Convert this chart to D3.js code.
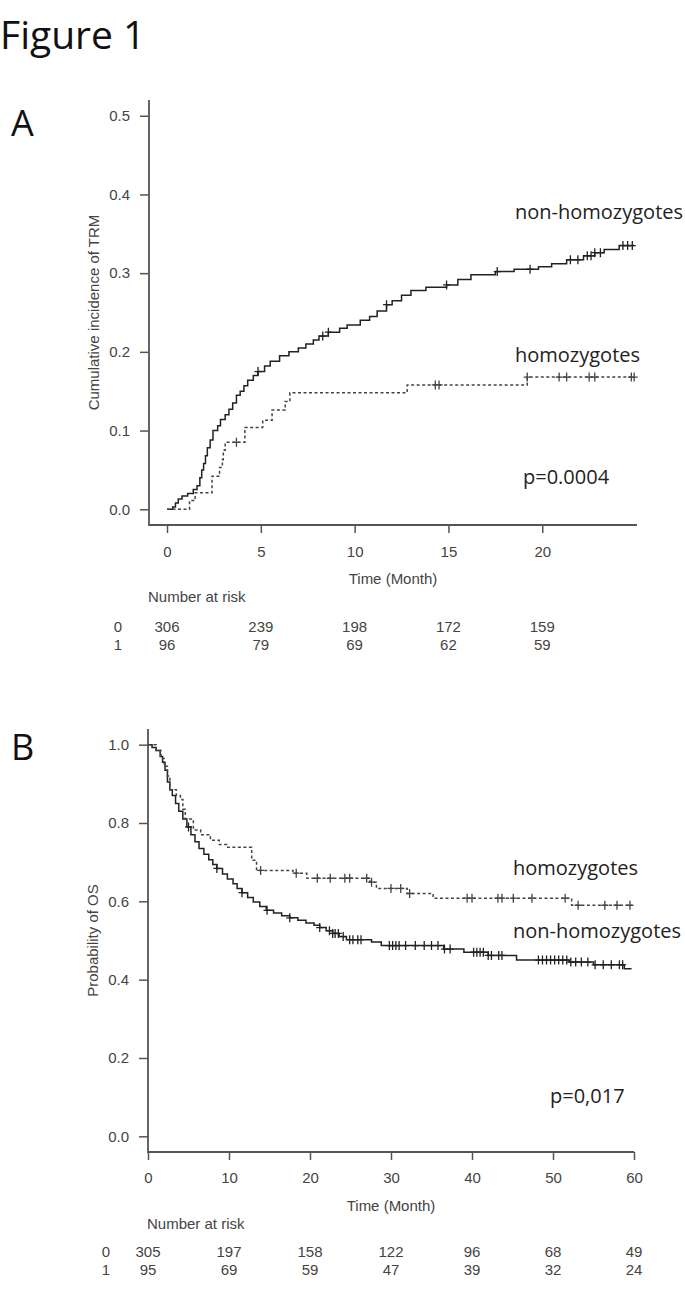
<!DOCTYPE html>
<html>
<head>
<meta charset="utf-8">
<script src="https://cdn.jsdelivr.net/npm/d3@7"></script>
<style>
  body { margin: 0; background: #fff; }
  .axis text { font-family: "Liberation Sans", Arial, sans-serif; font-size: 15px; fill: #444; }
  .axis line { stroke: #555; stroke-width: 1.5; }
  .rtext { font-family: "Liberation Sans", Arial, sans-serif; font-size: 15px; fill: #444; }
  .note { font-family: "Open Sans", sans-serif; font-size: 20px; fill: #222; }
</style>
</head>
<body>
<script>
//figure title and panel letters
var figTitle = "Figure 1";
var panelLetters = ["A", "B"];

//panel A: cumulative incidence of TRM
var trmTicksY = [0, 0.1, 0.2, 0.3, 0.4, 0.5];
var trmTicksX = [0, 5, 10, 15, 20];
var trmNonT = [0, 0.3, 0.45, 0.6, 0.8, 1.1, 1.4, 1.6, 1.75, 1.85, 1.95, 2.05, 2.15, 2.3, 2.45, 2.7, 2.85, 3.1, 3.3, 3.5, 3.7, 3.9, 4.1, 4.3, 4.6, 4.85, 5.2, 5.5, 6.0, 6.5, 7.0, 7.4, 7.8, 8.1, 8.6, 9.2, 9.6, 10.3, 10.8, 11.2, 11.7, 12.0, 12.5, 13.0, 13.8, 14.9, 15.5, 16.2, 17.5, 18.5, 19.8, 20.5, 21.3, 22.2, 22.8, 23.3, 24.1, 24.9];
var trmNonV = [0, 0.003, 0.008, 0.013, 0.017, 0.020, 0.025, 0.030, 0.040, 0.050, 0.058, 0.068, 0.078, 0.088, 0.100, 0.106, 0.114, 0.120, 0.127, 0.135, 0.145, 0.150, 0.157, 0.164, 0.170, 0.175, 0.182, 0.188, 0.195, 0.200, 0.205, 0.210, 0.215, 0.220, 0.225, 0.230, 0.234, 0.240, 0.245, 0.252, 0.260, 0.265, 0.272, 0.278, 0.282, 0.285, 0.292, 0.298, 0.302, 0.305, 0.308, 0.312, 0.317, 0.322, 0.326, 0.330, 0.335, 0.335];
var trmNonCens = [4.85, 8.3, 8.6, 11.7, 14.9, 17.6, 19.35, 21.5, 21.9, 22.4, 22.6, 22.8, 23.1, 24.3, 24.55, 24.8];
var trmHomT = [0, 1.2, 1.5, 2.4, 2.8, 2.95, 3.0, 3.1, 4.15, 5.1, 5.6, 6.3, 6.55, 12.8, 19.2, 24.9];
var trmHomV = [0, 0.011, 0.021, 0.042, 0.053, 0.063, 0.075, 0.085, 0.104, 0.113, 0.126, 0.137, 0.148, 0.158, 0.168, 0.168];
var trmHomCens = [3.7, 14.3, 14.5, 19.2, 20.9, 21.3, 22.5, 22.8, 24.75, 24.9];
var trmRiskNon = [306, 239, 198, 172, 159];
var trmRiskHom = [96, 79, 69, 62, 59];

//panel B: overall survival
var osTicksY = [0, 0.2, 0.4, 0.6, 0.8, 1.0];
var osTicksX = [0, 10, 20, 30, 40, 50, 60];
var osNonT = [0, 0.5, 1.0, 1.5, 1.8, 2.1, 2.4, 2.7, 3.0, 3.4, 3.8, 4.3, 4.8, 5.3, 5.8, 6.3, 6.9, 7.5, 8.0, 8.5, 9.2, 9.8, 10.5, 11.0, 11.6, 12.3, 13.0, 13.8, 14.6, 15.5, 16.5, 17.5, 18.5, 19.5, 20.5, 21.2, 22.0, 22.8, 23.6, 24.5, 27.6, 28.8, 36.5, 39.0, 42.0, 45.5, 52.0, 55.0, 58.8, 59.7];
var osNonV = [1, 0.993, 0.985, 0.970, 0.955, 0.935, 0.905, 0.885, 0.870, 0.850, 0.830, 0.810, 0.790, 0.770, 0.752, 0.735, 0.720, 0.706, 0.694, 0.684, 0.670, 0.657, 0.645, 0.633, 0.622, 0.610, 0.598, 0.587, 0.577, 0.570, 0.563, 0.558, 0.552, 0.545, 0.539, 0.533, 0.525, 0.518, 0.510, 0.502, 0.496, 0.487, 0.478, 0.470, 0.462, 0.450, 0.445, 0.438, 0.428, 0.428];
var osNonCens = [5.0, 8.5, 11.6, 14.7, 17.5, 21.2, 22.4, 22.8, 23.1, 23.5, 24.1, 24.9, 25.3, 25.9, 26.3, 29.8, 30.2, 30.6, 31.0, 31.8, 33.0, 34.1, 35.0, 35.8, 36.6, 37.3, 40.2, 40.6, 41.0, 41.4, 42.0, 42.4, 43.3, 43.7, 48.2, 48.7, 49.2, 49.7, 50.2, 50.7, 51.2, 51.7, 52.2, 52.8, 53.5, 54.3, 55.2, 56.2, 57.2, 58.2, 58.6];
var osHomT = [0, 1.0, 1.6, 2.0, 2.4, 2.7, 3.5, 4.0, 4.3, 4.6, 5.6, 6.5, 7.7, 8.8, 9.7, 12.8, 13.4, 17.9, 19.6, 27.4, 28.2, 32.0, 35.2, 52.3, 59.7];
var osHomV = [1, 0.985, 0.965, 0.945, 0.920, 0.885, 0.870, 0.860, 0.835, 0.810, 0.782, 0.770, 0.756, 0.745, 0.738, 0.705, 0.679, 0.672, 0.659, 0.649, 0.633, 0.620, 0.608, 0.590, 0.590];
var osHomCens = [13.9, 18.3, 20.9, 22.5, 24.3, 24.9, 27.0, 27.6, 30.0, 31.2, 32.3, 39.4, 40.0, 43.2, 43.7, 45.1, 47.4, 51.5, 53.1, 56.4, 57.9, 59.5];
var osRiskNon = [305, 197, 158, 122, 96, 68, 49];
var osRiskHom = [95, 69, 59, 47, 39, 32, 24];

//risk row names
var riskRows = ["0", "1"];

window.onload = function() {
  var w = 685, h = 1290;
  var svg = d3.select("body").append("svg")
    .attr("width", w)
    .attr("height", h);

  //figure title
  svg.append("text")
    .attr("x", 0).attr("y", 49)
    .style("font-family", "'Open Sans', sans-serif")
    .style("font-size", "39px")
    .style("fill", "#111")
    .text(figTitle);

  //draws one km-style panel
  function panel(cfg) {
    var x = d3.scaleLinear().domain(cfg.xDom).range(cfg.xRange);
    var y = d3.scaleLinear().domain(cfg.yDom).range(cfg.yRange);
    var g = svg.append("g");

    //panel letter
    g.append("text")
      .attr("x", 11).attr("y", cfg.letterY)
      .style("font-family", "'Open Sans', sans-serif")
      .style("font-size", "36px")
      .style("fill", "#111")
      .text(cfg.letter);

    //y axis
    var yAxis = g.append("g").attr("class", "axis")
      .attr("transform", "translate(" + cfg.xRange[0] + ",0)")
      .call(d3.axisLeft(y).tickValues(cfg.ticksY).tickSize(9).tickPadding(10).tickFormat(d3.format(".1f")));
    yAxis.select(".domain").remove();
    //x axis
    var xAxis = g.append("g").attr("class", "axis")
      .attr("transform", "translate(0," + cfg.yRange[0] + ")")
      .call(d3.axisBottom(x).tickValues(cfg.ticksX).tickSize(8).tickPadding(cfg.xPad).tickFormat(d3.format("d")));
    xAxis.select(".domain").remove();
    //L shaped frame
    g.append("path")
      .attr("d", "M" + cfg.xRange[0] + "," + cfg.yRange[1] + "V" + cfg.yRange[0] + "H" + cfg.xRange[1])
      .attr("fill", "none")
      .attr("stroke", "#555")
      .attr("stroke-width", 1.8);

    //axis titles
    g.append("text").attr("class", "rtext")
      .attr("transform", "translate(" + cfg.yTitleX + "," + ((cfg.yRange[0] + cfg.yRange[1]) / 2) + ") rotate(-90)")
      .attr("text-anchor", "middle")
      .text(cfg.yTitle);
    g.append("text").attr("class", "rtext")
      .attr("x", (cfg.xRange[0] + cfg.xRange[1]) / 2)
      .attr("y", cfg.xTitleY)
      .attr("text-anchor", "middle")
      .text("Time (Month)");

    //curves
    var line = d3.line()
      .x(function(d) { return x(d[0]); })
      .y(function(d) { return y(d[1]); })
      .curve(d3.curveStepAfter);
    cfg.groups.forEach(function(s) {
      var pts = s.t.map(function(t, i) { return [t, s.v[i]]; });
      g.append("path")
        .attr("d", line(pts))
        .attr("fill", "none")
        .attr("stroke", s.color)
        .attr("stroke-width", 1.5)
        .attr("stroke-dasharray", s.dash);
      //censor marks "+"
      g.selectAll(null)
        .data(s.cens)
        .enter().append("path")
        .attr("d", function(c) {
          var i = d3.bisectRight(s.t, c) - 1;
          var px = x(c), py = y(s.v[Math.max(i, 0)]);
          return "M" + px + "," + (py - 4.5) + "V" + (py + 4.5) + "M" + (px - 3.5) + "," + py + "H" + (px + 3.5);
        })
        .attr("stroke", s.color)
        .attr("stroke-width", 1.3);
    });

    //annotations
    cfg.notes.forEach(function(n) {
      g.append("text").attr("class", "note")
        .attr("x", n.x).attr("y", n.y)
        .text(n.text);
    });

    //number at risk table
    g.append("text").attr("class", "rtext")
      .attr("x", cfg.xRange[0] - 1).attr("y", cfg.riskTitleY)
      .text("Number at risk");
    [cfg.riskNon, cfg.riskHom].forEach(function(row, r) {
      var ry = cfg.riskY[r];
      g.append("text").attr("class", "rtext")
        .attr("x", cfg.rowLabelX).attr("y", ry)
        .attr("text-anchor", "middle")
        .text(riskRows[r]);
      g.selectAll(null)
        .data(row)
        .enter().append("text")
        .attr("class", "rtext")
        .attr("x", function(d, i) { return x(cfg.ticksX[i]); })
        .attr("y", ry)
        .attr("text-anchor", "middle")
        .text(function(d) { return d; });
    });
  }

  //panel A
  panel({
    letter: panelLetters[0], letterY: 136,
    xDom: [-0.96, 25.05], xRange: [149, 637],
    yDom: [-0.02, 0.52], yRange: [525, 100],
    ticksX: trmTicksX, ticksY: trmTicksY, xPad: 13,
    yTitle: "Cumulative incidence of TRM", yTitleX: 99, xTitleY: 584,
    groups: [
      { t: trmNonT, v: trmNonV, cens: trmNonCens, color: "#222", dash: null },
      { t: trmHomT, v: trmHomV, cens: trmHomCens, color: "#444", dash: "3,2.5" }
    ],
    notes: [
      { x: 515, y: 219, text: "non-homozygotes" },
      { x: 515, y: 362, text: "homozygotes" },
      { x: 523, y: 484, text: "p=0.0004" }
    ],
    riskTitleY: 602, riskY: [632, 650], rowLabelX: 118,
    riskNon: trmRiskNon, riskHom: trmRiskHom
  });

  //panel B
  panel({
    letter: panelLetters[1], letterY: 760,
    xDom: [0, 60], xRange: [148, 634],
    yDom: [-0.04, 1.04], yRange: [1152, 729],
    ticksX: osTicksX, ticksY: osTicksY, xPad: 12,
    yTitle: "Probability of OS", yTitleX: 98, xTitleY: 1211,
    groups: [
      { t: osNonT, v: osNonV, cens: osNonCens, color: "#222", dash: null },
      { t: osHomT, v: osHomV, cens: osHomCens, color: "#444", dash: "3,2.5" }
    ],
    notes: [
      { x: 513, y: 875, text: "homozygotes" },
      { x: 513, y: 938, text: "non-homozygotes" },
      { x: 550, y: 1103, text: "p=0,017" }
    ],
    riskTitleY: 1229, riskY: [1257, 1275], rowLabelX: 106,
    riskNon: osRiskNon, riskHom: osRiskHom
  });
};
</script>
</body>
</html>
